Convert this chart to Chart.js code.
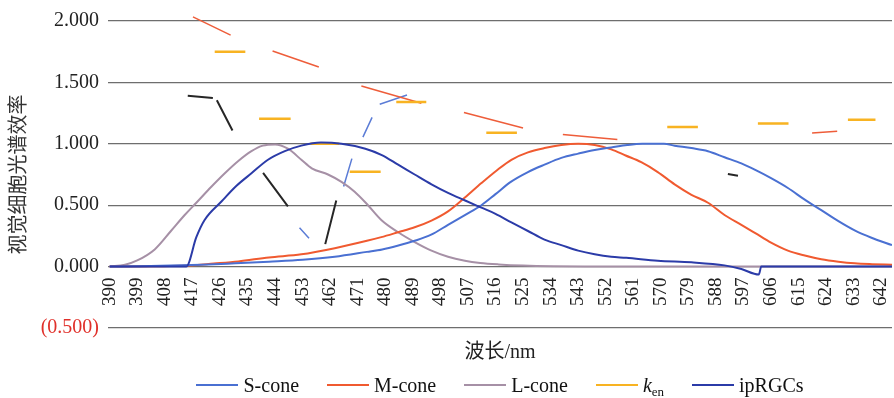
<!DOCTYPE html>
<html>
<head>
<meta charset="utf-8">
<script src="https://cdn.jsdelivr.net/npm/chart.js@4"></script>
<style>
  html, body { margin: 0; padding: 0; background: #fff; }
  #wrap { position: relative; width: 894px; height: 398px; }
  #legend {
    position: absolute; left: 108px; width: 784px; top: 372px; height: 26px;
    display: flex; justify-content: center; align-items: center; gap: 28px;
    font: 20px "Liberation Serif", "Times New Roman", serif; color: #111;
  }
  .item { display: flex; align-items: center; white-space: nowrap; }
  .swatch { display: inline-block; width: 42px; height: 2px; margin-right: 5px; }
  .item sub { font-size: 13px; vertical-align: -4px; line-height: 0; }
</style>
</head>
<body>
<div id="wrap">
  <canvas id="c" width="894" height="398"></canvas>
  <div id="legend"></div>
</div>
<script>
// Wavelength tick labels (nm)
const xTicks = [390, 399, 408, 417, 426, 435, 444, 453, 462, 471, 480, 489, 498, 507, 516,
                525, 534, 543, 552, 561, 570, 579, 588, 597, 606, 615, 624, 633, 642];
const yTicks = [-0.5, 0, 0.5, 1.0, 1.5, 2.0];

// S-cone relative spectral efficiency
const sConeNm  = [390, 400, 410, 420, 431, 442, 453, 463.5, 474, 479, 484, 489.6, 495, 500.5, 506,
                  511.4, 516, 521, 526.6, 532, 537.5, 543, 548.4, 553.8, 559, 564, 571, 574.5, 580, 585.4,
                  590.8, 596.3, 601, 606, 611.5, 617, 622.4, 628, 633.3, 638.8, 645.5];
const sConeVal = [0, 0.003, 0.008, 0.015, 0.027, 0.04, 0.055, 0.08, 0.12, 0.14, 0.17, 0.21, 0.26, 0.34, 0.42,
                  0.50, 0.59, 0.69, 0.77, 0.83, 0.885, 0.92, 0.95, 0.97, 0.99, 1.0, 1.0, 0.985, 0.965, 0.94,
                  0.89, 0.84, 0.785, 0.72, 0.64, 0.545, 0.46, 0.37, 0.295, 0.235, 0.175];

// M-cone
const mConeNm  = [390, 405, 415, 424, 432, 442, 452.6, 463.5, 474, 478.7, 484.2, 489.6, 495.1, 500.5, 505.9,
                  511.4, 516.5, 521.2, 526.6, 532, 537.5, 543, 548.4, 553.8, 558.5, 563.6, 569, 574.5, 580, 585.4,
                  590.8, 596.3, 601, 606, 611.5, 617, 622.4, 628, 633.3, 639, 645.5];
const mConeVal = [0, 0.003, 0.008, 0.025, 0.042, 0.075, 0.10, 0.15, 0.21, 0.24, 0.28, 0.32, 0.375, 0.45, 0.56,
                  0.68, 0.785, 0.87, 0.93, 0.965, 0.99, 1.0, 0.99, 0.955, 0.905, 0.85, 0.77, 0.67, 0.585, 0.52,
                  0.42, 0.34, 0.27, 0.195, 0.13, 0.09, 0.06, 0.04, 0.027, 0.02, 0.015];

// L-cone
const lConeNm  = [390, 395, 399, 404.7, 410, 414.5, 418.3, 423.2, 427.6, 432, 436.3, 440, 444, 448.2, 452.6,
                  456, 461.3, 465.7, 470, 474, 478.7, 484.2, 489.6, 495.1, 500.5, 506, 511, 517, 525, 535,
                  545, 645.5];
const lConeVal = [0, 0.015, 0.05, 0.14, 0.29, 0.42, 0.52, 0.65, 0.76, 0.86, 0.94, 0.985, 0.995, 0.96, 0.87,
                  0.80, 0.75, 0.69, 0.61, 0.51, 0.38, 0.28, 0.20, 0.13, 0.08, 0.048, 0.03, 0.018, 0.008, 0.002,
                  0, 0];

// ipRGCs
const ipNm  = [390, 415, 418.3, 421, 426.5, 431.5, 436.3, 441.7, 447.2, 452.6, 459, 465.7, 473.5, 478.7, 484.2,
               489.6, 495.1, 500.5, 505.9, 511.4, 516, 521.2, 526.6, 532, 537.5, 543, 548.4, 553.8, 558.7, 569,
               580, 590.8, 596.3, 602, 602.8, 645.5];
const ipVal = [0, 0, 0.24, 0.38, 0.53, 0.66, 0.76, 0.87, 0.94, 0.985, 1.01, 1.0, 0.96, 0.91, 0.83,
               0.75, 0.67, 0.60, 0.54, 0.48, 0.43, 0.36, 0.29, 0.22, 0.175, 0.13, 0.10, 0.08, 0.072, 0.048,
               0.035, 0.01, -0.02, -0.065, 0, 0];

// k_en, drawn as short level dashes
const kenFrom = [424.3, 438.8, 455.5, 468.4, 483.6, 513, 572.1, 601.7, 631.1];
const kenTo   = [434.3, 449.1, 465, 478.5, 493.4, 523, 582.1, 611.7, 640.1];
const kenVal  = [1.75, 1.204, 1.0, 0.773, 1.34, 1.091, 1.137, 1.166, 1.196];

// Loose stroke segments [nm1, v1, nm2, v2]
const redSegs = [[417.2, 2.033, 429.5, 1.885], [443.2, 1.756, 458.3, 1.625], [472.2, 1.470, 491.8, 1.330],
                 [505.7, 1.255, 525, 1.129], [538, 1.076, 555.8, 1.035], [619.4, 1.088, 627.6, 1.102]];
const blackSegs = [[415.5, 1.392, 423.7, 1.373], [425, 1.354, 430.1, 1.108], [440.1, 0.764, 448.2, 0.491],
                   [460.4, 0.183, 464, 0.539], [591.9, 0.754, 595.2, 0.740]];
const blueSegs = [[452, 0.316, 455.1, 0.231], [466.4, 0.652, 469.1, 0.879], [472.7, 1.054, 475.7, 1.215],
                  [478.2, 1.322, 487.1, 1.397]];

const serif = '"Liberation Serif", "Times New Roman", serif';

const toPoints = (nm, val) => nm.map((x, i) => ({ x, y: val[i] }));
const segPoints = segs => segs.flatMap(([x1, y1, x2, y2]) => [{ x: x1, y: y1 }, { x: x2, y: y2 }, { x: x2, y: null }]);
const kenPoints = kenFrom.flatMap((x, i) => [{ x, y: kenVal[i] }, { x: kenTo[i], y: kenVal[i] }, { x: kenTo[i], y: null }]);

const curve = (label, data, color, order) => ({
  label, data, borderColor: color, backgroundColor: color, borderWidth: 2,
  cubicInterpolationMode: 'monotone', order, legend: true
});
const strokes = (data, color, width) => ({
  data, borderColor: color, borderWidth: width, tension: 0, order: 3, clip: false, legend: false
});

const datasets = [
  curve('S-cone', toPoints(sConeNm, sConeVal), '#4a70d2', 1),
  curve('M-cone', toPoints(mConeNm, mConeVal), '#f05a30', 1),
  curve('L-cone', toPoints(lConeNm, lConeVal), '#a690a6', 2),
  Object.assign(curve('k_en', kenPoints, '#f8b322', 2), { tension: 0, borderWidth: 2.5, cubicInterpolationMode: 'default' }),
  curve('ipRGCs', toPoints(ipNm, ipVal), '#2b3ba8', 0),
  strokes(segPoints(redSegs), '#ee5d3a', 1.5),
  strokes(segPoints(blackSegs), '#262626', 2),
  strokes(segPoints(blueSegs), '#5b7cd6', 1.5)
];

const chart = new Chart(document.getElementById('c'), {
  type: 'line',
  data: { datasets },
  options: {
    responsive: false,
    animation: false,
    events: [],
    layout: { padding: { top: 17, right: 2, bottom: 70, left: 0 } },
    plugins: { legend: { display: false }, tooltip: { enabled: false } },
    elements: { point: { radius: 0 }, line: { borderCapStyle: 'butt' } },
    scales: {
      x: {
        type: 'linear', min: 389.45, max: 645.5,
        position: { y: 0 },
        afterBuildTicks: s => { s.ticks = xTicks.map(v => ({ value: v })); },
        // rotated labels fit inside the plot, so no side padding is reserved for them
        afterFit: s => { s.paddingLeft = 0; s.paddingRight = 0; },
        ticks: {
          autoSkip: false, minRotation: 90, maxRotation: 90, padding: 11,
          color: '#222', font: { family: serif, size: 19 },
          callback: v => String(v)
        },
        grid: { display: false, drawTicks: false },
        border: { display: false },
        title: {
          display: true, text: '波长/nm', color: '#222',
          font: { family: serif + ', "Noto Sans CJK SC"', size: 20 },
          padding: { top: 24, bottom: 0 }
        }
      },
      y: {
        min: -0.5, max: 2.0,
        afterFit: s => { s.width = 108; },
        afterBuildTicks: s => { s.ticks = yTicks.map(v => ({ value: v })); },
        ticks: {
          padding: 9,
          color: c => (c.tick && c.tick.value < 0) ? '#e0302a' : '#222',
          font: { family: serif, size: 20 },
          callback: v => v < 0 ? '(' + Math.abs(v).toFixed(3) + ')' : Number(v).toFixed(3)
        },
        grid: { color: '#6e6e6e', lineWidth: 1.2, drawTicks: false },
        border: { display: false },
        title: {
          display: true, text: '视觉细胞光谱效率', color: '#333',
          font: { family: '"Noto Sans CJK SC"', size: 20 },
          padding: { top: 5, bottom: 0 }
        }
      }
    }
  }
});

// Legend built from the chart's own series
const legendEl = document.getElementById('legend');
chart.data.datasets.filter(d => d.legend).forEach(d => {
  const item = document.createElement('span');
  item.className = 'item';
  const sw = document.createElement('span');
  sw.className = 'swatch';
  sw.style.background = d.borderColor;
  item.appendChild(sw);
  const txt = document.createElement('span');
  if (d.label === 'k_en') {
    txt.innerHTML = '<i>k</i><sub>en</sub>';
  } else {
    txt.textContent = d.label;
  }
  item.appendChild(txt);
  legendEl.appendChild(item);
});
</script>
</body>
</html>
